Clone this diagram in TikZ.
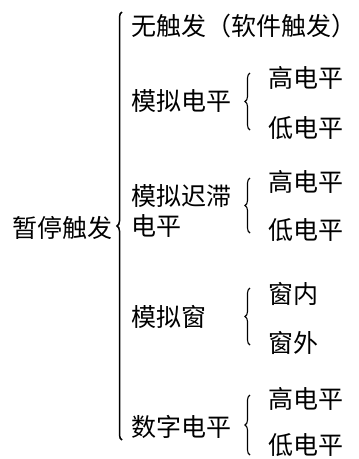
\documentclass[tikz,border=0pt]{standalone}
\usepackage{fontspec}
\newfontfamily\cjk{Noto Sans CJK SC}
\usetikzlibrary{decorations.pathreplacing}
\tikzset{>=stealth}
\tikzset{lbl/.style = {anchor=base west, inner sep=0pt, font=\cjk\fontsize{25}{30}\selectfont},
         brc/.style = {decorate, decoration={brace, amplitude=5pt}, line width=1.1pt}}

\begin{document}
\begin{tikzpicture}[x=1pt, y=1pt]
    \useasboundingbox (0,0) rectangle (359,-459);
    % root
    \node [lbl] (root) at (12,-237.5) {暂停触发};
    \draw [brc, line width=1.5pt] (122,-440) -- (122,-12);
    % second level
    \node [lbl] (none) at (131,-35) {无触发（软件触发）};
    \node [lbl] (alevel) at (131,-110) {模拟电平};
    \node [lbl, anchor=west, align=left] (hyst) at (131,-211) {模拟迟滞\\电平};
    \node [lbl] (win) at (131,-326) {模拟窗};
    \node [lbl] (dlevel) at (131,-436) {数字电平};
    % third level
    \node [lbl] (ahigh) at (268,-87) {高电平};
    \node [lbl] (alow) at (268,-137) {低电平};
    \draw [brc] (250,-130) -- (250,-73);
    \node [lbl] (hhigh) at (268,-191) {高电平};
    \node [lbl] (hlow) at (268,-239) {低电平};
    \draw [brc] (250,-233) -- (250,-178);
    \node [lbl] (win_in) at (268,-303) {窗内};
    \node [lbl] (win_out) at (268,-352) {窗外};
    \draw [brc] (250,-345) -- (250,-288);
    \node [lbl] (dhigh) at (268,-408) {高电平};
    \node [lbl] (dlow) at (268,-454) {低电平};
    \draw [brc] (250,-455) -- (250,-395);
\end{tikzpicture}
\end{document}
